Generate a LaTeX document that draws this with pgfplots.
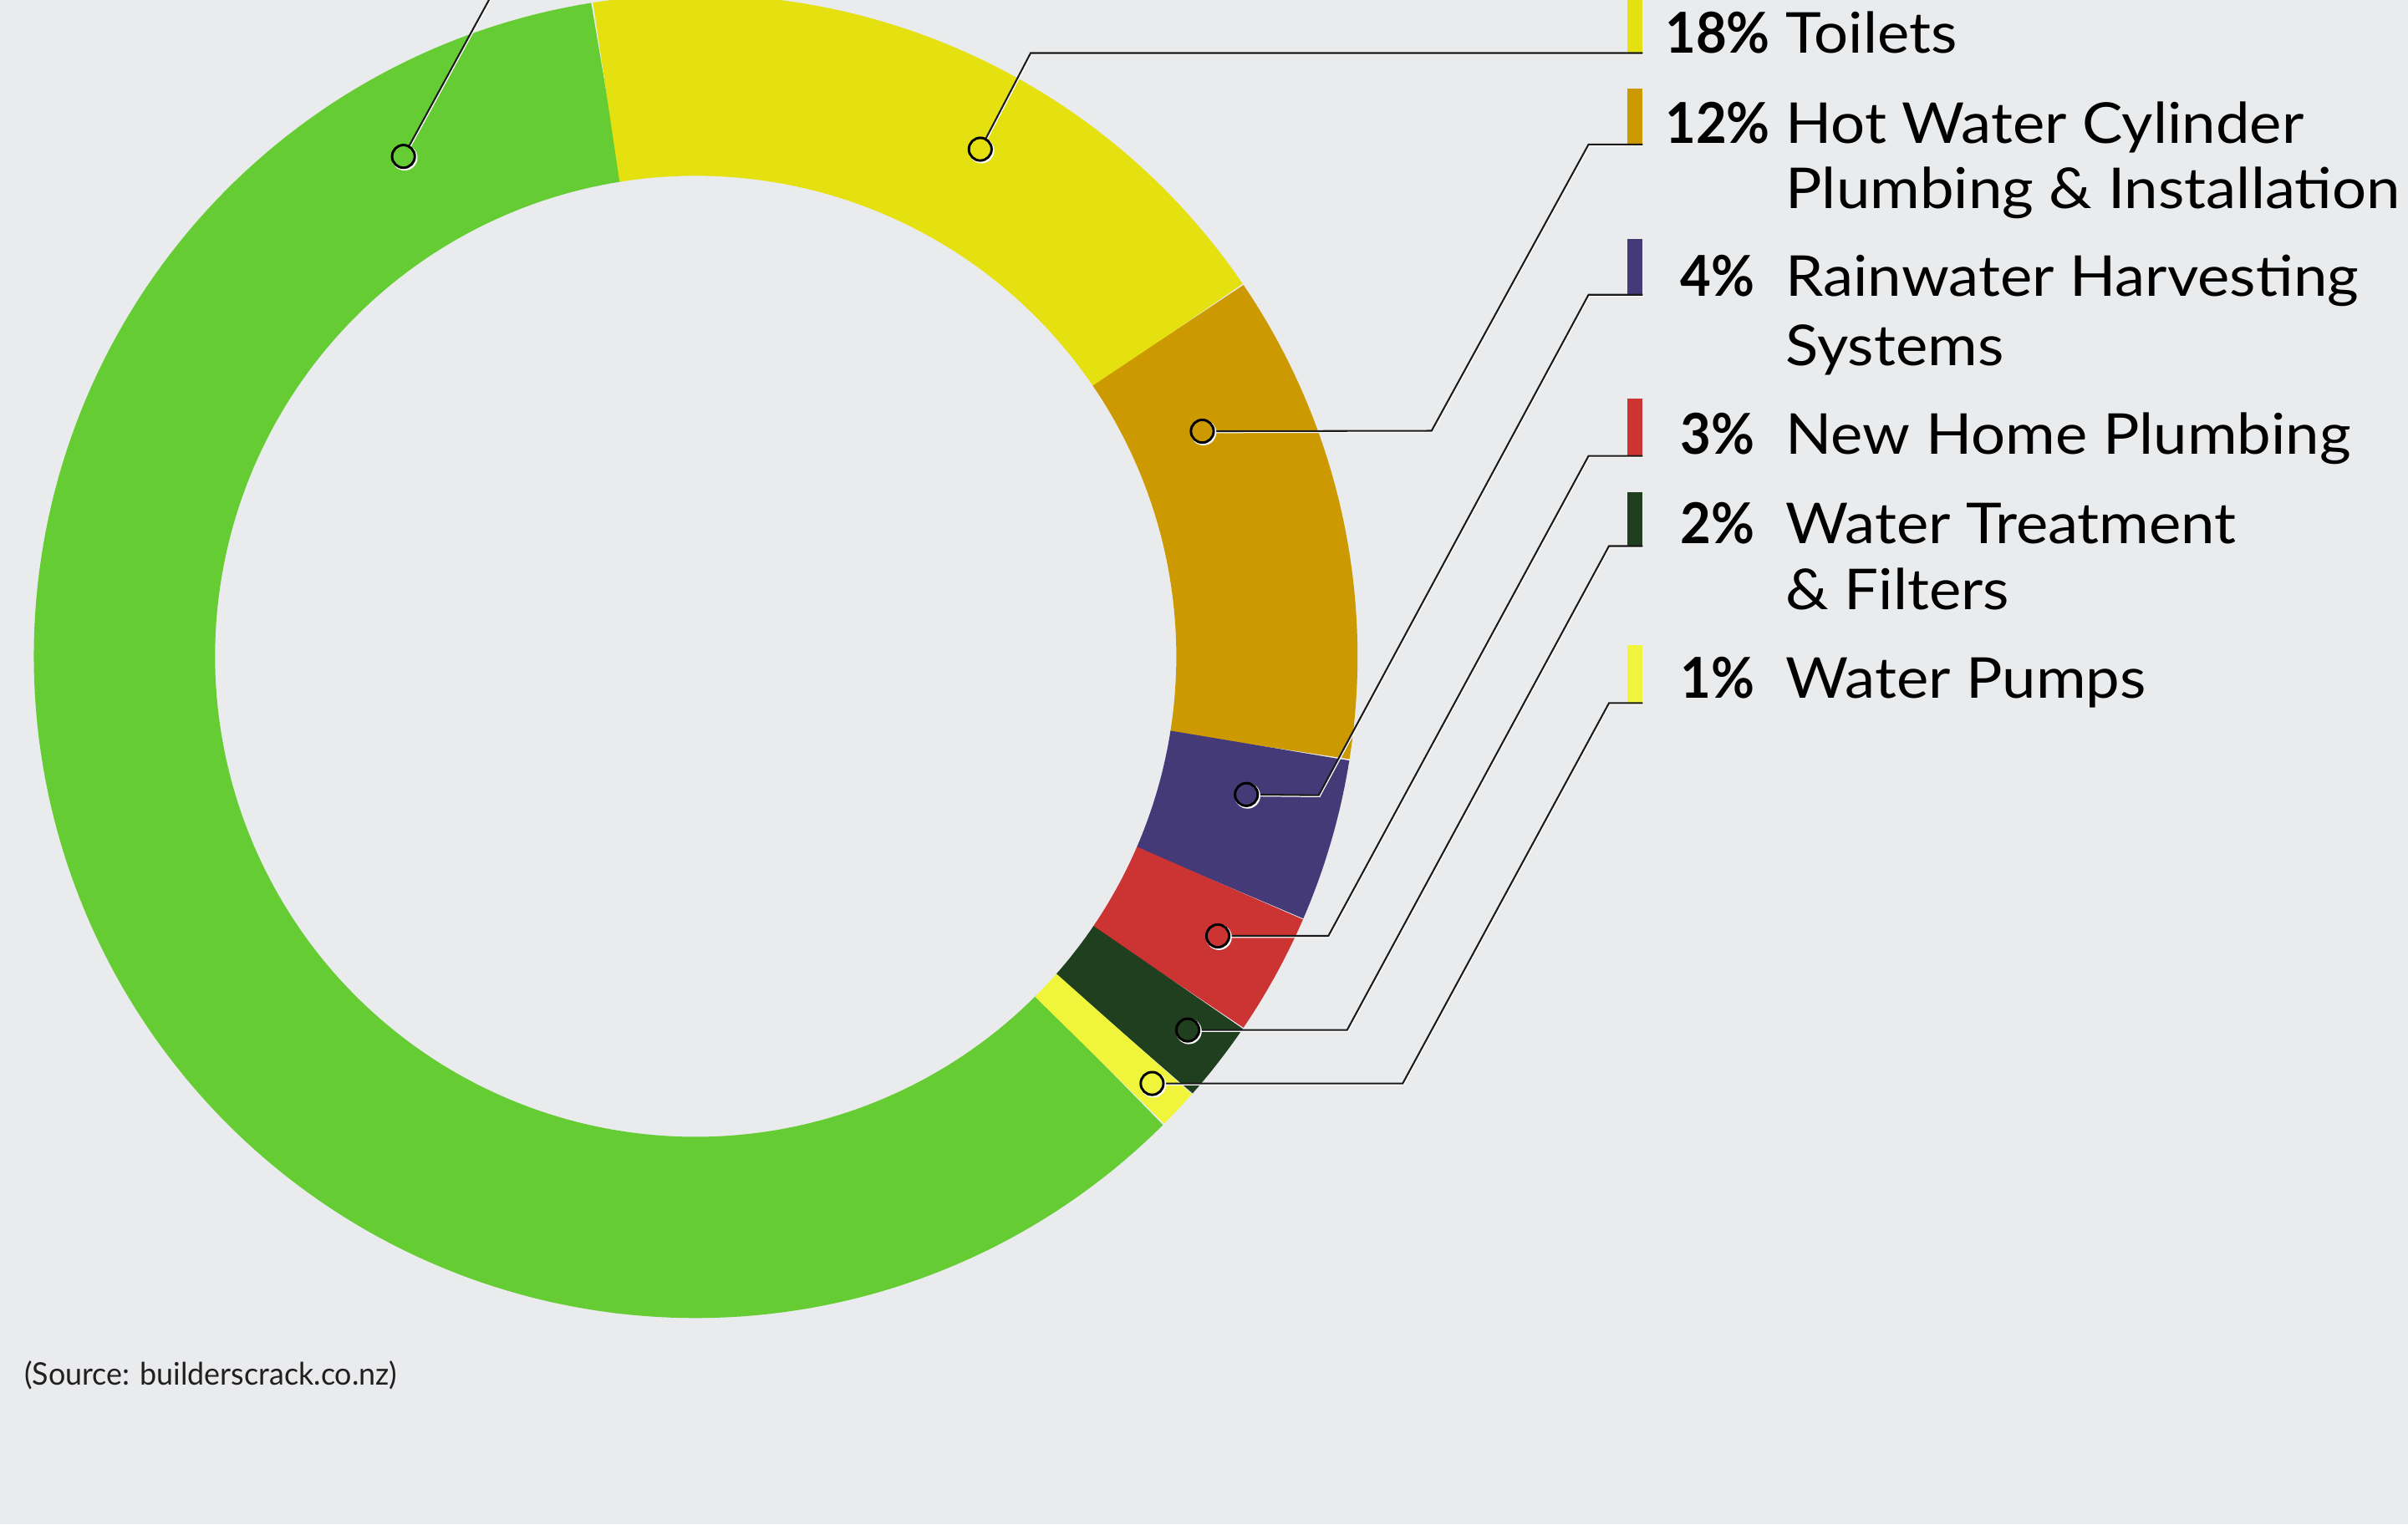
\documentclass[border=0pt]{standalone}
\usepackage{pgfplots}
\pgfplotsset{compat=1.18}
\usepackage{fontspec}
\setmainfont{Lato}
\newfontfamily\namefont{Lato}[FakeStretch=1.075]
\newfontfamily\pcfont{Lato}[FakeStretch=0.94]
\newfontfamily\srcfont{Lato}[FakeStretch=0.965]
\definecolor{bgcol}{HTML}{EAEBED}
\definecolor{cG}{HTML}{66CC33}
\definecolor{cT}{HTML}{E5E010}
\definecolor{cH}{HTML}{CC9900}
\definecolor{cR}{HTML}{443A78}
\definecolor{cN}{HTML}{CC3333}
\definecolor{cW}{HTML}{1F3F1F}
\definecolor{cP}{HTML}{F0F53C}
\definecolor{lnc}{HTML}{1A1A1A}
\definecolor{srcc}{HTML}{231F20}
\pagecolor{bgcol}
% shares in percent
\def\vG{60}\def\vT{18}\def\vH{12}\def\vR{4}\def\vN{3}\def\vW{2}\def\vP{1}
\pgfmathsetmacro\aT{99}
\pgfmathsetmacro\bT{\aT-3.6*\vT}
\pgfmathsetmacro\bH{\bT-3.6*\vH}
\pgfmathsetmacro\bR{\bH-3.6*\vR}
\pgfmathsetmacro\bN{\bR-3.6*\vN}
\pgfmathsetmacro\bW{\bN-3.6*\vW}
\pgfmathsetmacro\bP{\bW-3.6*\vP}
\pgfmathsetmacro\bG{\bP-3.6*\vG}
\newcommand\nm{\namefont\fontsize{9.18pt}{11pt}\selectfont}
\newcommand\pc{\pcfont\fontsize{9.18pt}{11pt}\selectfont\bfseries}
\begin{document}
\begin{tikzpicture}
\begin{axis}[
  scale only axis, width=392pt, height=248.25pt,
  xmin=0, xmax=1568, ymin=0, ymax=993,
  hide axis, clip=true,
  ring/.style={line width=29.5pt, line cap=butt, line join=round, no marks},
  ln/.style={lnc, line width=0.28pt, line join=miter, no marks},
  sh/.style={white, line width=0.28pt, line join=miter, no marks, xshift=0.12pt, yshift=-0.17pt},
  bar/.style={line width=2.45pt, line cap=butt, no marks},
  dot/.style={only marks, mark=*, mark size=1.85pt, mark options={draw=lnc, line width=0.4pt}},
  dotsh/.style={only marks, mark=*, mark size=1.95pt, mark options={draw=white, fill=white, line width=0.3pt, xshift=0.18pt, yshift=-0.2pt}},
]
\coordinate (SW) at (axis cs:0,0);
\coordinate (NE) at (axis cs:1568,993);
% ring segments
\addplot[ring, cG, domain=\bG:\bP, samples=180] ({453+372*cos(x)},{565.5+372*sin(x)});
\addplot[ring, cT, domain=\bT:\aT, samples=60] ({453+372*cos(x)},{565.5+372*sin(x)});
\addplot[ring, cH, domain=\bH:\bT, samples=45] ({453+372*cos(x)},{565.5+372*sin(x)});
\addplot[ring, cR, domain=\bR:\bH, samples=20] ({453+372*cos(x)},{565.5+372*sin(x)});
\addplot[ring, cN, domain=\bN:\bR, samples=15] ({453+372*cos(x)},{565.5+372*sin(x)});
\addplot[ring, cW, domain=\bW:\bN, samples=10] ({453+372*cos(x)},{565.5+372*sin(x)});
\addplot[ring, cP, domain=\bP:\bW, samples=6] ({453+372*cos(x)},{565.5+372*sin(x)});
% legend bars
\addplot[bar, cT] coordinates {(1064.7,1000) (1064.7,958.4)};
\addplot[bar, cH] coordinates {(1064.7,935.1) (1064.7,898.9)};
\addplot[bar, cR] coordinates {(1064.7,837.1) (1064.7,801)};
\addplot[bar, cN] coordinates {(1064.7,733.1) (1064.7,696)};
\addplot[bar, cW] coordinates {(1064.7,672.6) (1064.7,637.3)};
\addplot[bar, cP] coordinates {(1064.7,572.7) (1064.7,535)};
% leader line shadows
\addplot[sh] coordinates {(262.7,891.1) (318.4,993) (336,1025)};
\addplot[sh] coordinates {(638.3,895.8) (671.1,958.4) (1069.6,958.4)};
\addplot[sh] coordinates {(782.9,712.1) (932.2,712.4) (1034.4,898.9) (1069.6,898.9)};
\addplot[sh] coordinates {(811.6,475.5) (858.7,475) (1034.4,801) (1069.6,801)};
\addplot[sh] coordinates {(793,383.4) (865,383.4) (1034.4,696) (1069.6,696)};
\addplot[sh] coordinates {(773.4,322.1) (877.2,322.1) (1047.7,637.3) (1069.6,637.3)};
\addplot[sh] coordinates {(750.2,287.3) (913.4,287.3) (1047.7,535) (1069.6,535)};
% leader lines
\addplot[ln] coordinates {(262.7,891.1) (318.4,993) (336,1025)};
\addplot[ln] coordinates {(638.3,895.8) (671.1,958.4) (1069.6,958.4)};
\addplot[ln] coordinates {(782.9,712.1) (932.2,712.4) (1034.4,898.9) (1069.6,898.9)};
\addplot[ln] coordinates {(811.6,475.5) (858.7,475) (1034.4,801) (1069.6,801)};
\addplot[ln] coordinates {(793,383.4) (865,383.4) (1034.4,696) (1069.6,696)};
\addplot[ln] coordinates {(773.4,322.1) (877.2,322.1) (1047.7,637.3) (1069.6,637.3)};
\addplot[ln] coordinates {(750.2,287.3) (913.4,287.3) (1047.7,535) (1069.6,535)};
% dot shadows
\addplot[dotsh] coordinates {(262.7,891.1) (638.3,895.8) (782.9,712.1) (811.6,475.5) (793,383.4) (773.4,322.1) (750.2,287.3)};
% dots
\addplot[dot, mark options={fill=cG}] coordinates {(262.7,891.1)};
\addplot[dot, mark options={fill=cT}] coordinates {(638.3,895.8)};
\addplot[dot, mark options={fill=cH}] coordinates {(782.9,712.1)};
\addplot[dot, mark options={fill=cR}] coordinates {(811.6,475.5)};
\addplot[dot, mark options={fill=cN}] coordinates {(793,383.4)};
\addplot[dot, mark options={fill=cW}] coordinates {(773.4,322.1)};
\addplot[dot, mark options={fill=cP}] coordinates {(750.2,287.3)};
% legend text
\node[anchor=base, font=\pc, inner sep=0pt] at (axis cs:1118.5,958.5) {18\%};
\node[anchor=base, font=\pc, inner sep=0pt] at (axis cs:1118.5,899.5) {12\%};
\node[anchor=base, font=\pc, inner sep=0pt] at (axis cs:1118.5,800) {4\%};
\node[anchor=base, font=\pc, inner sep=0pt] at (axis cs:1118.5,697) {3\%};
\node[anchor=base, font=\pc, inner sep=0pt] at (axis cs:1118.5,639) {2\%};
\node[anchor=base, font=\pc, inner sep=0pt] at (axis cs:1118.5,538) {1\%};
\node[anchor=base west, font=\nm, inner sep=0pt] at (axis cs:1162,958.5) {Toilets};
\node[anchor=base west, font=\nm, inner sep=0pt] at (axis cs:1162,899.5) {Hot Water Cylinder};
\node[anchor=base west, font=\nm, inner sep=0pt] at (axis cs:1162,857) {Plumbing \& Installation};
\node[anchor=base west, font=\nm, inner sep=0pt] at (axis cs:1162,800) {Rainwater Harvesting};
\node[anchor=base west, font=\nm, inner sep=0pt] at (axis cs:1162,755) {Systems};
\node[anchor=base west, font=\nm, inner sep=0pt] at (axis cs:1162,697) {New Home Plumbing};
\node[anchor=base west, font=\nm, inner sep=0pt] at (axis cs:1162,639) {Water Treatment};
\node[anchor=base west, font=\nm, inner sep=0pt] at (axis cs:1162,596) {\& Filters};
\node[anchor=base west, font=\nm, inner sep=0pt] at (axis cs:1162,538) {Water Pumps};
\node[anchor=base west, font=\srcfont\fontsize{5.06pt}{6pt}\selectfont, text=srcc, inner sep=0pt] at (axis cs:15,90.6) {(Source: builderscrack.co.nz)};
\end{axis}
\pgfresetboundingbox
\path[use as bounding box] (SW) rectangle (NE);
\end{tikzpicture}
\end{document}
